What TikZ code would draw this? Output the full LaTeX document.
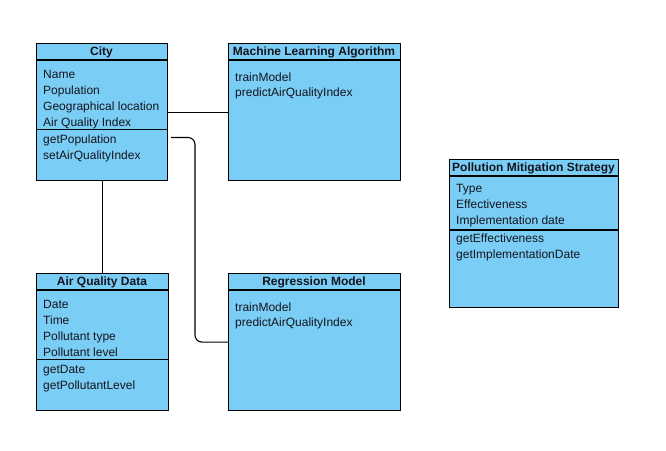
\documentclass[tikz,border=0pt]{standalone}
\usepackage{fontspec}
\setmainfont{Liberation Sans}
\definecolor{boxfill}{RGB}{122,206,245}
\definecolor{txt}{RGB}{20,20,30}
\begin{document}
\begin{tikzpicture}[x=1pt,y=-1pt,
  umlbox/.style={draw=black,fill=boxfill,line width=1.2pt,rectangle,inner sep=0pt,anchor=north west},
  sepline/.style={draw=black,line width=1.2pt},
  title/.style={font=\fontsize{12}{14}\selectfont\bfseries,text=txt,anchor=base,inner sep=0pt},
  item/.style={font=\fontsize{12}{14}\selectfont,text=txt,anchor=base west,inner sep=0pt},
  conn/.style={draw=black,line width=1.1pt}]
\useasboundingbox (0,0) rectangle (666,450);
\fill[white] (0,0) rectangle (666,450);

% City
\node[umlbox,minimum width=131pt,minimum height=137pt] (city) at (36,43) {};
\draw[sepline] (36,60) -- (167,60);
\draw[sepline] (36,129.5) -- (167,129.5);
\node[title] (cityt) at (101.5,55) {City};
\node[item] (c1) at (43,78.5) {Name};
\node[item] (c2) at (43,94) {Population};
\node[item] (c3) at (43,110) {Geographical location};
\node[item] (c4) at (43,126) {Air Quality Index};
\node[item] (c5) at (43,143.5) {getPopulation};
\node[item] (c6) at (43,159) {setAirQualityIndex};

% Machine Learning Algorithm
\node[umlbox,minimum width=172pt,minimum height=137pt] (ml) at (228,43) {};
\draw[sepline] (228,60) -- (400,60);
\node[title] (mlt) at (314,55) {Machine Learning Algorithm};
\node[item] (m1) at (235,81) {trainModel};
\node[item] (m2) at (235,96) {predictAirQualityIndex};

% Air Quality Data
\node[umlbox,minimum width=132pt,minimum height=137pt] (aqd) at (36,273) {};
\draw[sepline] (36,290) -- (168,290);
\draw[sepline] (36,359.5) -- (168,359.5);
\node[title] (aqdt) at (102,285) {Air Quality Data};
\node[item] (a1) at (43,308.5) {Date};
\node[item] (a2) at (43,324) {Time};
\node[item] (a3) at (43,340) {Pollutant type};
\node[item] (a4) at (43,356) {Pollutant level};
\node[item] (a5) at (43,373.5) {getDate};
\node[item] (a6) at (43,389) {getPollutantLevel};

% Regression Model
\node[umlbox,minimum width=172pt,minimum height=137pt] (reg) at (228,273) {};
\draw[sepline] (228,290) -- (400,290);
\node[title] (regt) at (314,285) {Regression Model};
\node[item] (r1) at (235,311) {trainModel};
\node[item] (r2) at (235,326) {predictAirQualityIndex};

% Pollution Mitigation Strategy
\node[umlbox,minimum width=169pt,minimum height=148pt] (pms) at (449,158.5) {};
\draw[sepline] (449,176) -- (618,176);
\draw[sepline] (449,230) -- (618,230);
\node[title] (pmst) at (533.5,171) {Pollution Mitigation Strategy};
\node[item] (p1) at (456,192.5) {Type};
\node[item] (p2) at (456,208) {Effectiveness};
\node[item] (p3) at (456,224) {Implementation date};
\node[item] (p4) at (456,242.5) {getEffectiveness};
\node[item] (p5) at (456,258) {getImplementationDate};

% Connectors
\draw[conn] (city.east) -- (ml.west);
\draw[conn] (city.south) -- (city.south |- aqd.north);
\coordinate (rstart) at (171,137.5);
\coordinate (rbend) at (195,137.5);
\draw[conn,rounded corners=7pt] (rstart) -- (rbend) -- (rbend |- reg.west) -- (reg.west);
\end{tikzpicture}
\end{document}
